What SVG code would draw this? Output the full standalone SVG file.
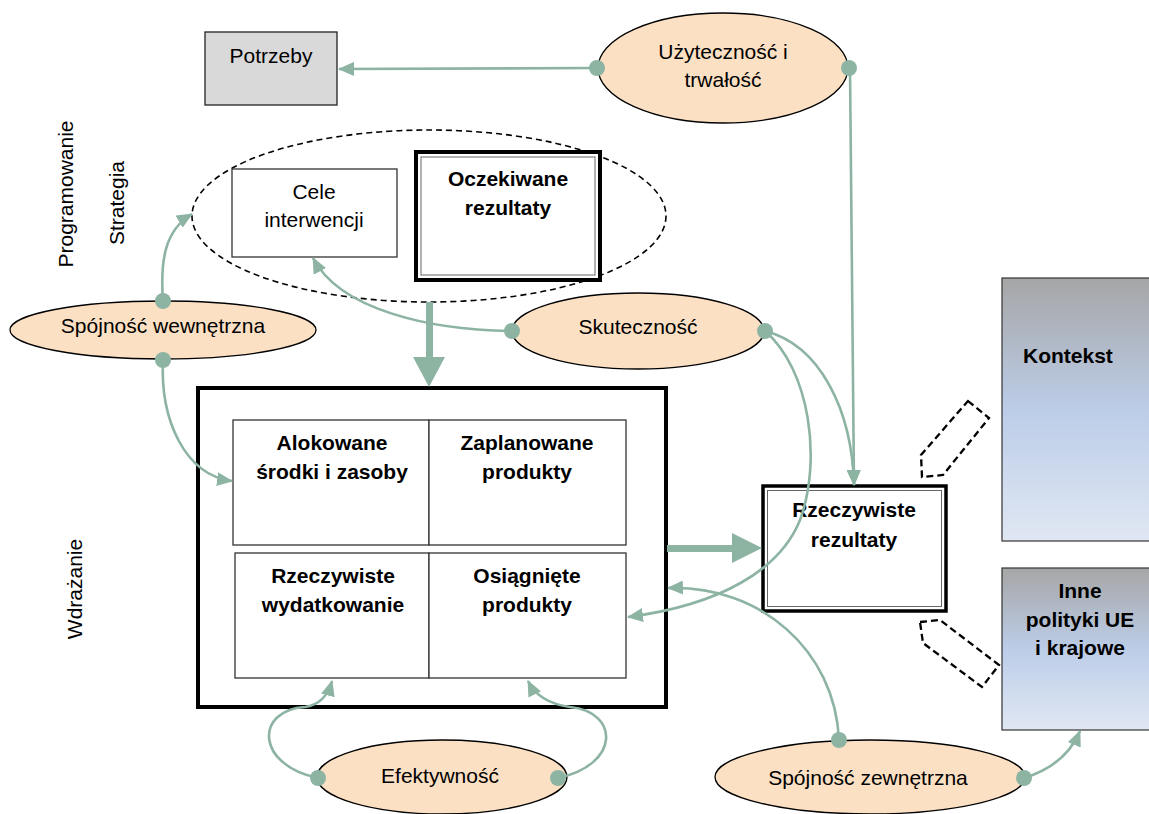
<svg xmlns="http://www.w3.org/2000/svg" width="1149" height="814" viewBox="0 0 1149 814">
<style>
text{font-family:"Liberation Sans",Arial,sans-serif;font-size:21px;fill:#000}
.b{font-weight:bold}
.m{text-anchor:middle}
.el{fill:#fce0c4;stroke:#000;stroke-width:1.3}
.con{fill:none;stroke:#8db4a3;stroke-width:2.6}
.dot{fill:#8db4a3}
.thick{fill:#8db4a3}
.cell{fill:#fff;stroke:#333;stroke-width:1.3}
.dash{fill:none;stroke:#000;stroke-width:1.6;stroke-dasharray:6,4}
.pent{fill:none;stroke:#000;stroke-width:2.3;stroke-dasharray:7,4}
.ctx{fill:url(#g);stroke:#333;stroke-width:1.2}
</style>
<defs>
<linearGradient id="g" x1="0" y1="0" x2="0" y2="1">
<stop offset="0" stop-color="#a6a6a6"/>
<stop offset="0.5" stop-color="#bccde8"/>
<stop offset="1" stop-color="#e0e7f3"/>
</linearGradient>
<marker id="ah" viewBox="0 0 16 14" refX="15" refY="7" markerWidth="16" markerHeight="14" markerUnits="userSpaceOnUse" orient="auto">
<path d="M0,0 L16,7 L0,14 z" fill="#8db4a3"/>
</marker>
</defs>

<g id="labels">
<text class="m" transform="translate(73,194) rotate(-90)">Programowanie</text>
<text class="m" transform="translate(124,203) rotate(-90)">Strategia</text>
<text class="m" transform="translate(82,589) rotate(-90)">Wdrażanie</text>
</g>

<g id="potrzeby">
<rect x="205" y="32" width="132" height="73" fill="#d9d9d9" stroke="#222" stroke-width="1.3"/>
<text class="m" x="271" y="63">Potrzeby</text>
</g>

<g id="uzytecznosc">
<ellipse class="el" cx="723" cy="68" rx="125" ry="55"/>
<text class="m" x="723" y="59">Użyteczność i</text>
<text class="m" x="723" y="87">trwałość</text>
</g>

<g id="strategia">
<ellipse class="dash" cx="429" cy="216" rx="237" ry="86"/>
</g>

<g id="cele">
<rect x="232" y="169" width="165" height="88" fill="#fff" stroke="#333" stroke-width="1.3"/>
<text class="m" x="314" y="199">Cele</text>
<text class="m" x="314" y="227">interwencji</text>
</g>

<g id="oczekiwane">
<rect x="416" y="152" width="184" height="128" fill="#fff" stroke="#000" stroke-width="4"/>
<rect x="421" y="157" width="174" height="118" fill="none" stroke="#666" stroke-width="1"/>
<text class="m b" x="508" y="186">Oczekiwane</text>
<text class="m b" x="508" y="215">rezultaty</text>
</g>

<g id="spojnosc-wewnetrzna">
<ellipse class="el" cx="163" cy="330" rx="153" ry="29"/>
<text class="m" x="163" y="333">Spójność wewnętrzna</text>
</g>

<g id="skutecznosc">
<ellipse class="el" cx="638" cy="331" rx="126" ry="38"/>
<text class="m" x="638" y="334">Skuteczność</text>
</g>

<g id="wdrazanie">
<rect x="198" y="388" width="468" height="319" fill="#fff" stroke="#000" stroke-width="4"/>
</g>

<g id="alokowane">
<rect class="cell" x="233" y="420" width="196" height="125"/>
<text class="m b" x="332" y="450">Alokowane</text>
<text class="m b" x="332" y="479">środki i zasoby</text>
</g>
<g id="zaplanowane">
<rect class="cell" x="429" y="420" width="197" height="125"/>
<text class="m b" x="527" y="450">Zaplanowane</text>
<text class="m b" x="527" y="479">produkty</text>
</g>
<g id="wydatkowanie">
<rect class="cell" x="235" y="553" width="194" height="125"/>
<text class="m b" x="333" y="583">Rzeczywiste</text>
<text class="m b" x="333" y="612">wydatkowanie</text>
</g>
<g id="osiagniete">
<rect class="cell" x="429" y="553" width="197" height="125"/>
<text class="m b" x="527" y="583">Osiągnięte</text>
<text class="m b" x="527" y="612">produkty</text>
</g>

<g id="rzeczywiste-rezultaty">
<rect x="763" y="486" width="183" height="125" fill="#fff" stroke="#000" stroke-width="3.5"/>
<rect x="767.5" y="490.5" width="174" height="116" fill="none" stroke="#666" stroke-width="1"/>
<text class="m b" x="854" y="517">Rzeczywiste</text>
<text class="m b" x="854" y="547">rezultaty</text>
</g>

<g id="kontekst">
<rect class="ctx" x="1002" y="278" width="152" height="263"/>
<text class="b" x="1023" y="363">Kontekst</text>
</g>

<g id="inne-polityki">
<rect class="ctx" x="1002" y="568" width="152" height="162"/>
<text class="m b" x="1080" y="598">Inne</text>
<text class="m b" x="1080" y="627">polityki UE</text>
<text class="m b" x="1080" y="655">i krajowe</text>
</g>

<g id="wplywy">
<polygon class="pent" points="968,401 989,418 943,475 922,477 921,455"/>
<polygon class="pent" points="920,622 940,620 999,665 982,687 923,643"/>
</g>

<g id="efektywnosc">
<ellipse class="el" cx="442" cy="777" rx="125" ry="37"/>
<text class="m" x="440" y="783">Efektywność</text>
</g>

<g id="spojnosc-zewnetrzna">
<ellipse class="el" cx="870" cy="777" rx="155" ry="37"/>
<text class="m" x="868" y="785">Spójność zewnętrzna</text>
</g>

<g id="connectors">
<path class="con" d="M597,68 L339,69" marker-end="url(#ah)"/>
<path class="con" d="M850,68 L854,485" marker-end="url(#ah)"/>
<path class="con" d="M765,331 C820,345 852,410 854,485" marker-end="url(#ah)"/>
<path class="con" d="M765,331 C810,370 822,460 800,520 C780,570 720,605 628,617" marker-end="url(#ah)"/>
<path class="con" d="M512,331 C430,330 340,310 313,258" marker-end="url(#ah)"/>
<path class="con" d="M163,301 C160,260 165,230 192,214" marker-end="url(#ah)"/>
<path class="con" d="M163,360 C160,420 185,475 232,481" marker-end="url(#ah)"/>
<path class="con" d="M318,778 C255,765 255,710 305,707 C320,705 328,695 332,681" marker-end="url(#ah)"/>
<path class="con" d="M558,778 C620,765 620,712 570,707 C548,704 535,695 528,681" marker-end="url(#ah)"/>
<path class="con" d="M839,740 C835,650 760,585 668,588" marker-end="url(#ah)"/>
<path class="con" d="M1024,778 C1050,770 1070,755 1080,731" marker-end="url(#ah)"/>
<rect class="thick" x="426" y="302" width="7" height="57"/>
<polygon class="thick" points="413,357 445,357 429,387"/>
<rect class="thick" x="667" y="545" width="67" height="7"/>
<polygon class="thick" points="732,533 762,548 732,563"/>
<circle class="dot" cx="597" cy="68" r="8"/>
<circle class="dot" cx="849" cy="68" r="8"/>
<circle class="dot" cx="765" cy="331" r="8"/>
<circle class="dot" cx="512" cy="331" r="8"/>
<circle class="dot" cx="163" cy="301" r="8"/>
<circle class="dot" cx="163" cy="360" r="8"/>
<circle class="dot" cx="318" cy="778" r="8"/>
<circle class="dot" cx="558" cy="778" r="8"/>
<circle class="dot" cx="839" cy="740" r="8"/>
<circle class="dot" cx="1024" cy="778" r="8"/>
</g>
</svg>
